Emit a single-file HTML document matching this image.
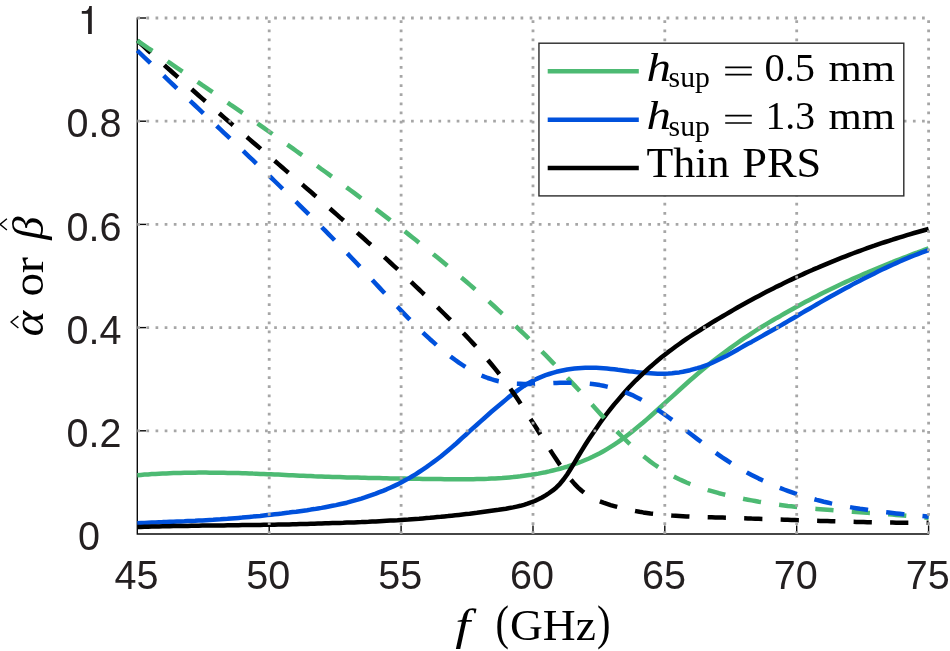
<!DOCTYPE html>
<html><head><meta charset="utf-8"><title>plot</title>
<style>html,body{margin:0;padding:0;background:#fff;overflow:hidden}svg{display:block}text{font-family:"Liberation Sans",sans-serif}.s{font-family:"Liberation Serif",serif}.i{font-family:"Liberation Serif",serif;font-style:italic}</style>
</head><body>
<svg width="950" height="651" viewBox="0 0 950 651" style="will-change:transform">
<rect width="950" height="651" fill="#fff"/>
<g stroke="#0a0a0a" stroke-width="1.4" fill="none">
<path d="M137.3,17.5 V534.0 H929.2"/>
<path d="M269.2,534.0 v-8.6"/>
<path d="M401.1,534.0 v-8.6"/>
<path d="M533.0,534.0 v-8.6"/>
<path d="M664.8,534.0 v-8.6"/>
<path d="M796.7,534.0 v-8.6"/>
<path d="M928.6,534.0 v-8.6"/>
<path d="M137.3,430.8 h8.8"/>
<path d="M137.3,327.6 h8.8"/>
<path d="M137.3,224.4 h8.8"/>
<path d="M137.3,121.2 h8.8"/>
<path d="M137.3,18.0 h8.8"/>
</g>
<clipPath id="c"><rect x="136.0" y="18.0" width="793.8" height="516.0"/></clipPath>
<g clip-path="url(#c)" fill="none" stroke-linejoin="round">
<path d="M137.3,475.2 140.9,474.9 144.5,474.6 148.1,474.4 151.8,474.1 155.4,473.9 159.0,473.7 162.6,473.5 166.2,473.4 169.8,473.2 173.4,473.1 177.0,473.0 180.7,472.9 184.3,472.8 187.9,472.8 191.5,472.7 195.1,472.7 198.7,472.6 202.3,472.6 206.0,472.6 209.6,472.7 213.2,472.7 216.8,472.7 220.4,472.8 224.0,472.8 227.6,472.9 231.2,473.0 234.9,473.0 238.5,473.1 242.1,473.2 245.7,473.3 249.3,473.4 252.9,473.6 256.5,473.7 260.2,473.9 263.8,474.0 267.4,474.2 271.0,474.3 274.6,474.5 278.2,474.6 281.8,474.8 285.4,475.0 289.1,475.2 292.7,475.3 296.3,475.5 299.9,475.7 303.5,475.8 307.1,476.0 310.7,476.1 314.3,476.3 318.0,476.4 321.6,476.5 325.2,476.7 328.8,476.8 332.4,476.9 336.0,477.0 339.6,477.1 343.3,477.2 346.9,477.4 350.5,477.5 354.1,477.6 357.7,477.6 361.3,477.7 364.9,477.8 368.5,477.9 372.2,478.0 375.8,478.1 379.4,478.1 383.0,478.2 386.6,478.3 390.2,478.4 393.8,478.4 397.5,478.5 401.1,478.5 404.7,478.6 408.3,478.7 411.9,478.7 415.5,478.8 419.1,478.8 422.7,478.9 426.4,478.9 430.0,479.0 433.6,479.0 437.2,479.1 440.8,479.1 444.4,479.2 448.0,479.2 451.7,479.2 455.3,479.2 458.9,479.3 462.5,479.3 466.1,479.2 469.7,479.2 473.3,479.2 476.9,479.1 480.6,479.0 484.2,478.9 487.8,478.8 491.4,478.6 495.0,478.4 498.6,478.2 502.2,478.0 505.9,477.7 509.5,477.4 513.1,477.1 516.7,476.7 520.3,476.3 523.9,475.8 527.5,475.3 531.1,474.8 534.8,474.2 538.4,473.6 542.0,472.9 545.6,472.2 549.2,471.4 552.8,470.5 556.4,469.6 560.0,468.7 563.7,467.7 567.3,466.6 570.9,465.4 574.5,464.2 578.1,462.9 581.7,461.5 585.3,460.0 589.0,458.5 592.6,456.8 596.2,455.0 599.8,453.2 603.4,451.2 607.0,449.1 610.6,446.9 614.2,444.6 617.9,442.2 621.5,439.7 625.1,437.0 628.7,434.3 632.3,431.4 635.9,428.5 639.5,425.5 643.2,422.5 646.8,419.4 650.4,416.2 654.0,413.0 657.6,409.8 661.2,406.5 664.8,403.2 668.4,399.9 672.1,396.6 675.7,393.3 679.3,390.0 682.9,386.8 686.5,383.5 690.1,380.3 693.7,377.2 697.4,374.0 701.0,371.0 704.6,368.0 708.2,365.0 711.8,362.1 715.4,359.3 719.0,356.5 722.6,353.7 726.3,351.0 729.9,348.4 733.5,345.8 737.1,343.2 740.7,340.7 744.3,338.2 747.9,335.8 751.6,333.4 755.2,331.0 758.8,328.7 762.4,326.5 766.0,324.3 769.6,322.1 773.2,320.0 776.8,317.9 780.5,315.9 784.1,313.8 787.7,311.8 791.3,309.7 794.9,307.7 798.5,305.7 802.1,303.8 805.7,301.8 809.4,299.9 813.0,298.0 816.6,296.2 820.2,294.3 823.8,292.5 827.4,290.7 831.0,289.0 834.7,287.2 838.3,285.5 841.9,283.8 845.5,282.1 849.1,280.5 852.7,278.9 856.3,277.3 859.9,275.7 863.6,274.1 867.2,272.6 870.8,271.0 874.4,269.5 878.0,268.0 881.6,266.5 885.2,265.1 888.9,263.6 892.5,262.2 896.1,260.7 899.7,259.3 903.3,257.9 906.9,256.5 910.5,255.1 914.1,253.7 917.8,252.4 921.4,251.0 925.0,249.6 928.6,248.3" stroke="#4dba73" stroke-width="4.5"/>
<path d="M137.3,523.2 140.9,523.0 144.5,522.9 148.1,522.7 151.8,522.5 155.4,522.4 159.0,522.2 162.6,522.1 166.2,521.9 169.8,521.8 173.4,521.7 177.0,521.5 180.7,521.4 184.3,521.3 187.9,521.1 191.5,520.9 195.1,520.8 198.7,520.6 202.3,520.4 206.0,520.2 209.6,520.0 213.2,519.8 216.8,519.5 220.4,519.3 224.0,519.0 227.6,518.8 231.2,518.5 234.9,518.2 238.5,517.9 242.1,517.6 245.7,517.2 249.3,516.9 252.9,516.6 256.5,516.2 260.2,515.9 263.8,515.5 267.4,515.1 271.0,514.7 274.6,514.3 278.2,513.9 281.8,513.5 285.4,513.0 289.1,512.6 292.7,512.1 296.3,511.7 299.9,511.2 303.5,510.7 307.1,510.2 310.7,509.6 314.3,509.1 318.0,508.5 321.6,507.9 325.2,507.2 328.8,506.5 332.4,505.8 336.0,505.1 339.6,504.3 343.3,503.5 346.9,502.7 350.5,501.7 354.1,500.7 357.7,499.7 361.3,498.6 364.9,497.4 368.5,496.1 372.2,494.8 375.8,493.6 379.4,492.2 383.0,490.8 386.6,489.3 390.2,487.7 393.8,486.1 397.5,484.4 401.1,482.5 404.7,480.6 408.3,478.6 411.9,476.5 415.5,474.3 419.1,472.0 422.7,469.6 426.4,467.1 430.0,464.5 433.6,461.9 437.2,459.2 440.8,456.5 444.4,453.6 448.0,450.6 451.7,447.4 455.3,444.3 458.9,441.0 462.5,437.7 466.1,434.5 469.7,431.2 473.3,427.9 476.9,424.7 480.6,421.4 484.2,418.2 487.8,415.0 491.4,411.8 495.0,408.7 498.6,405.7 502.2,402.7 505.9,399.6 509.5,396.6 513.1,393.8 516.7,391.1 520.3,388.5 523.9,386.0 527.5,383.7 531.1,381.7 534.8,379.8 538.4,378.1 542.0,376.6 545.6,375.2 549.2,374.0 552.8,372.8 556.4,371.8 560.0,371.0 563.7,370.2 567.3,369.5 570.9,369.0 574.5,368.6 578.1,368.2 581.7,368.0 585.3,367.8 589.0,367.7 592.6,367.7 596.2,367.8 599.8,367.9 603.4,368.2 607.0,368.5 610.6,368.9 614.2,369.3 617.9,369.8 621.5,370.2 625.1,370.7 628.7,371.2 632.3,371.6 635.9,372.1 639.5,372.4 643.2,372.8 646.8,373.1 650.4,373.3 654.0,373.5 657.6,373.7 661.2,373.7 664.8,373.7 668.4,373.5 672.1,373.2 675.7,372.8 679.3,372.4 682.9,371.8 686.5,371.0 690.1,370.2 693.7,369.2 697.4,368.2 701.0,367.1 704.6,365.8 708.2,364.5 711.8,363.0 715.4,361.3 719.0,359.5 722.6,357.7 726.3,355.9 729.9,354.0 733.5,352.0 737.1,350.0 740.7,347.9 744.3,345.8 747.9,343.8 751.6,341.9 755.2,339.9 758.8,337.9 762.4,335.9 766.0,333.8 769.6,331.8 773.2,329.7 776.8,327.7 780.5,325.6 784.1,323.5 787.7,321.4 791.3,319.3 794.9,317.2 798.5,315.0 802.1,312.9 805.7,310.8 809.4,308.7 813.0,306.6 816.6,304.5 820.2,302.4 823.8,300.4 827.4,298.3 831.0,296.3 834.7,294.3 838.3,292.3 841.9,290.3 845.5,288.3 849.1,286.4 852.7,284.4 856.3,282.5 859.9,280.7 863.6,278.8 867.2,277.0 870.8,275.2 874.4,273.4 878.0,271.6 881.6,269.8 885.2,268.1 888.9,266.4 892.5,264.7 896.1,263.1 899.7,261.5 903.3,259.9 906.9,258.4 910.5,256.9 914.1,255.5 917.8,254.1 921.4,252.7 925.0,251.4 928.6,250.1" stroke="#0051dc" stroke-width="4.5"/>
<path d="M137.3,527.0 140.9,526.9 144.5,526.8 148.1,526.7 151.8,526.6 155.4,526.5 159.0,526.4 162.6,526.3 166.2,526.2 169.8,526.2 173.4,526.1 177.0,526.0 180.7,526.0 184.3,525.9 187.9,525.9 191.5,525.8 195.1,525.7 198.7,525.7 202.3,525.6 206.0,525.6 209.6,525.5 213.2,525.5 216.8,525.4 220.4,525.4 224.0,525.4 227.6,525.3 231.2,525.3 234.9,525.2 238.5,525.2 242.1,525.1 245.7,525.1 249.3,525.0 252.9,525.0 256.5,524.9 260.2,524.9 263.8,524.8 267.4,524.8 271.0,524.7 274.6,524.7 278.2,524.6 281.8,524.5 285.4,524.5 289.1,524.4 292.7,524.3 296.3,524.2 299.9,524.1 303.5,524.0 307.1,523.9 310.7,523.8 314.3,523.7 318.0,523.6 321.6,523.5 325.2,523.3 328.8,523.2 332.4,523.1 336.0,523.0 339.6,522.9 343.3,522.8 346.9,522.6 350.5,522.5 354.1,522.4 357.7,522.2 361.3,522.1 364.9,521.9 368.5,521.8 372.2,521.6 375.8,521.4 379.4,521.2 383.0,521.0 386.6,520.8 390.2,520.6 393.8,520.4 397.5,520.2 401.1,519.9 404.7,519.7 408.3,519.5 411.9,519.2 415.5,518.9 419.1,518.7 422.7,518.4 426.4,518.1 430.0,517.8 433.6,517.4 437.2,517.1 440.8,516.8 444.4,516.4 448.0,516.1 451.7,515.7 455.3,515.3 458.9,514.9 462.5,514.5 466.1,514.1 469.7,513.7 473.3,513.2 476.9,512.8 480.6,512.3 484.2,511.8 487.8,511.3 491.4,510.8 495.0,510.3 498.6,509.8 502.2,509.2 505.9,508.7 509.5,508.0 513.1,507.4 516.7,506.6 520.3,505.8 523.9,504.8 527.5,503.7 531.1,502.4 534.8,501.0 538.4,499.3 542.0,497.5 545.6,495.4 549.2,493.0 552.8,490.4 556.4,487.4 560.0,483.8 563.7,479.3 567.3,474.2 570.9,468.5 574.5,462.6 578.1,456.5 581.7,450.6 585.3,444.8 589.0,439.1 592.6,433.7 596.2,428.4 599.8,423.3 603.4,418.3 607.0,413.5 610.6,408.9 614.2,404.4 617.9,400.1 621.5,395.9 625.1,391.8 628.7,387.8 632.3,384.0 635.9,380.3 639.5,376.8 643.2,373.3 646.8,370.0 650.4,366.7 654.0,363.6 657.6,360.5 661.2,357.6 664.8,354.7 668.4,351.9 672.1,349.2 675.7,346.5 679.3,344.0 682.9,341.4 686.5,338.9 690.1,336.5 693.7,334.1 697.4,331.8 701.0,329.5 704.6,327.2 708.2,325.0 711.8,322.7 715.4,320.5 719.0,318.3 722.6,316.2 726.3,314.1 729.9,312.0 733.5,309.9 737.1,307.8 740.7,305.8 744.3,303.8 747.9,301.8 751.6,299.8 755.2,297.8 758.8,295.9 762.4,294.0 766.0,292.1 769.6,290.3 773.2,288.5 776.8,286.6 780.5,284.9 784.1,283.1 787.7,281.3 791.3,279.6 794.9,277.9 798.5,276.2 802.1,274.6 805.7,272.9 809.4,271.3 813.0,269.7 816.6,268.2 820.2,266.6 823.8,265.1 827.4,263.6 831.0,262.1 834.7,260.6 838.3,259.1 841.9,257.7 845.5,256.3 849.1,254.9 852.7,253.5 856.3,252.2 859.9,250.8 863.6,249.5 867.2,248.2 870.8,246.9 874.4,245.7 878.0,244.4 881.6,243.2 885.2,242.0 888.9,240.8 892.5,239.7 896.1,238.5 899.7,237.4 903.3,236.3 906.9,235.2 910.5,234.1 914.1,233.0 917.8,232.0 921.4,231.0 925.0,230.0 928.6,229.0" stroke="#000" stroke-width="4.5"/>
<path d="M137.3,40.6 140.9,43.9 144.5,47.2 148.1,50.5 151.8,53.8 155.4,57.0 159.0,60.3 162.6,63.5 166.2,66.8 169.8,70.0 173.4,73.2 177.0,76.4 180.7,79.6 184.3,82.8 187.9,86.0 191.5,89.1 195.1,92.3 198.7,95.5 202.3,98.6 206.0,101.8 209.6,104.9 213.2,108.0 216.8,111.1 220.4,114.3 224.0,117.4 227.6,120.5 231.2,123.6 234.9,126.7 238.5,129.8 242.1,132.9 245.7,136.0 249.3,139.1 252.9,142.2 256.5,145.3 260.2,148.4 263.8,151.5 267.4,154.6 271.0,157.7 274.6,160.8 278.2,163.9 281.8,167.0 285.4,170.1 289.1,173.2 292.7,176.3 296.3,179.4 299.9,182.5 303.5,185.6 307.1,188.7 310.7,191.8 314.3,195.0 318.0,198.1 321.6,201.2 325.2,204.4 328.8,207.5 332.4,210.7 336.0,213.9 339.6,217.1 343.3,220.2 346.9,223.4 350.5,226.6 354.1,229.8 357.7,233.1 361.3,236.3 364.9,239.5 368.5,242.8 372.2,246.0 375.8,249.3 379.4,252.6 383.0,255.9 386.6,259.2 390.2,262.5 393.8,265.8 397.5,269.2 401.1,272.5 404.7,275.9 408.3,279.3 411.9,282.7 415.5,286.1 419.1,289.5 422.7,293.0 426.4,296.4 430.0,299.9 433.6,303.4 437.2,306.9 440.8,310.5 444.4,314.0 448.0,317.6 451.7,321.1 455.3,324.8 458.9,328.4 462.5,332.1 466.1,335.9 469.7,339.7 473.3,343.6 476.9,347.5 480.6,351.6 484.2,355.7 487.8,359.9 491.4,364.2 495.0,368.6 498.6,373.2 502.2,377.8 505.9,382.6 509.5,387.5 513.1,392.6 516.7,397.8 520.3,403.2 523.9,408.7 527.5,414.2 531.1,419.9 534.8,425.6 538.4,431.3 542.0,437.1 545.6,442.8 549.2,448.5 552.8,454.1 556.4,459.6 560.0,465.0 563.7,470.2 567.3,475.1 570.9,479.7 574.5,483.9 578.1,487.6 581.7,490.8 585.3,493.6 589.0,496.0 592.6,498.1 596.2,499.8 599.8,501.4 603.4,502.7 607.0,503.9 610.6,505.1 614.2,506.1 617.9,507.1 621.5,508.0 625.1,508.9 628.7,509.7 632.3,510.4 635.9,511.1 639.5,511.8 643.2,512.4 646.8,512.9 650.4,513.4 654.0,513.8 657.6,514.3 661.2,514.6 664.8,515.0 668.4,515.3 672.1,515.6 675.7,515.8 679.3,516.0 682.9,516.2 686.5,516.4 690.1,516.6 693.7,516.7 697.4,516.8 701.0,517.0 704.6,517.1 708.2,517.2 711.8,517.3 715.4,517.4 719.0,517.5 722.6,517.6 726.3,517.7 729.9,517.8 733.5,518.0 737.1,518.1 740.7,518.2 744.3,518.3 747.9,518.4 751.6,518.6 755.2,518.7 758.8,518.8 762.4,518.9 766.0,519.0 769.6,519.2 773.2,519.3 776.8,519.4 780.5,519.6 784.1,519.7 787.7,519.8 791.3,519.9 794.9,520.0 798.5,520.2 802.1,520.3 805.7,520.4 809.4,520.5 813.0,520.7 816.6,520.8 820.2,520.9 823.8,521.0 827.4,521.1 831.0,521.2 834.7,521.3 838.3,521.4 841.9,521.5 845.5,521.6 849.1,521.7 852.7,521.8 856.3,521.9 859.9,522.0 863.6,522.1 867.2,522.2 870.8,522.2 874.4,522.3 878.0,522.4 881.6,522.4 885.2,522.5 888.9,522.6 892.5,522.6 896.1,522.7 899.7,522.7 903.3,522.7 906.9,522.8 910.5,522.8 914.1,522.8 917.8,522.8 921.4,522.8 925.0,522.8 928.6,522.8" stroke="#000" stroke-width="4.5" stroke-dasharray="18.25 18.25"/>
<path d="M137.3,40.7 140.9,43.2 144.5,45.6 148.1,48.1 151.8,50.5 155.4,53.0 159.0,55.5 162.6,57.9 166.2,60.4 169.8,62.9 173.4,65.3 177.0,67.8 180.7,70.3 184.3,72.7 187.9,75.2 191.5,77.7 195.1,80.2 198.7,82.7 202.3,85.2 206.0,87.6 209.6,90.1 213.2,92.6 216.8,95.1 220.4,97.6 224.0,100.1 227.6,102.6 231.2,105.2 234.9,107.7 238.5,110.2 242.1,112.7 245.7,115.2 249.3,117.8 252.9,120.3 256.5,122.8 260.2,125.4 263.8,127.9 267.4,130.5 271.0,133.0 274.6,135.6 278.2,138.1 281.8,140.7 285.4,143.2 289.1,145.8 292.7,148.4 296.3,151.0 299.9,153.6 303.5,156.1 307.1,158.7 310.7,161.3 314.3,163.9 318.0,166.5 321.6,169.2 325.2,171.8 328.8,174.4 332.4,177.0 336.0,179.7 339.6,182.3 343.3,184.9 346.9,187.6 350.5,190.3 354.1,192.9 357.7,195.6 361.3,198.3 364.9,201.0 368.5,203.7 372.2,206.4 375.8,209.1 379.4,211.9 383.0,214.6 386.6,217.4 390.2,220.1 393.8,222.9 397.5,225.7 401.1,228.5 404.7,231.3 408.3,234.1 411.9,237.0 415.5,239.8 419.1,242.7 422.7,245.6 426.4,248.5 430.0,251.4 433.6,254.4 437.2,257.3 440.8,260.3 444.4,263.2 448.0,266.2 451.7,269.3 455.3,272.3 458.9,275.4 462.5,278.4 466.1,281.5 469.7,284.6 473.3,287.8 476.9,290.9 480.6,294.1 484.2,297.3 487.8,300.5 491.4,303.7 495.0,307.0 498.6,310.3 502.2,313.6 505.9,316.9 509.5,320.3 513.1,323.7 516.7,327.1 520.3,330.5 523.9,333.9 527.5,337.4 531.1,340.9 534.8,344.4 538.4,348.0 542.0,351.6 545.6,355.2 549.2,358.9 552.8,362.6 556.4,366.3 560.0,370.0 563.7,373.8 567.3,377.6 570.9,381.5 574.5,385.4 578.1,389.3 581.7,393.3 585.3,397.2 589.0,401.2 592.6,405.2 596.2,409.2 599.8,413.2 603.4,417.1 607.0,421.0 610.6,424.8 614.2,428.6 617.9,432.3 621.5,436.0 625.1,439.5 628.7,443.0 632.3,446.4 635.9,449.7 639.5,452.8 643.2,455.9 646.8,458.8 650.4,461.6 654.0,464.2 657.6,466.7 661.2,469.1 664.8,471.4 668.4,473.5 672.1,475.6 675.7,477.5 679.3,479.3 682.9,480.9 686.5,482.5 690.1,484.0 693.7,485.4 697.4,486.7 701.0,487.9 704.6,489.1 708.2,490.2 711.8,491.2 715.4,492.2 719.0,493.2 722.6,494.1 726.3,495.0 729.9,495.8 733.5,496.7 737.1,497.5 740.7,498.2 744.3,499.0 747.9,499.7 751.6,500.4 755.2,501.0 758.8,501.7 762.4,502.3 766.0,502.8 769.6,503.4 773.2,503.9 776.8,504.4 780.5,504.9 784.1,505.4 787.7,505.9 791.3,506.3 794.9,506.7 798.5,507.1 802.1,507.5 805.7,507.9 809.4,508.2 813.0,508.6 816.6,508.9 820.2,509.2 823.8,509.5 827.4,509.8 831.0,510.1 834.7,510.4 838.3,510.7 841.9,511.0 845.5,511.2 849.1,511.5 852.7,511.7 856.3,512.0 859.9,512.2 863.6,512.5 867.2,512.8 870.8,513.0 874.4,513.3 878.0,513.5 881.6,513.8 885.2,514.0 888.9,514.3 892.5,514.6 896.1,514.9 899.7,515.2 903.3,515.5 906.9,515.8 910.5,516.1 914.1,516.4 917.8,516.7 921.4,517.1 925.0,517.5 928.6,517.8" stroke="#4dba73" stroke-width="4.5" stroke-dasharray="18.25 18.25"/>
<path d="M137.3,50.5 140.9,54.0 144.5,57.5 148.1,60.9 151.8,64.4 155.4,67.8 159.0,71.3 162.6,74.7 166.2,78.2 169.8,81.6 173.4,85.0 177.0,88.4 180.7,91.9 184.3,95.3 187.9,98.7 191.5,102.1 195.1,105.5 198.7,108.9 202.3,112.3 206.0,115.8 209.6,119.2 213.2,122.6 216.8,126.0 220.4,129.4 224.0,132.8 227.6,136.2 231.2,139.7 234.9,143.1 238.5,146.5 242.1,149.9 245.7,153.4 249.3,156.8 252.9,160.2 256.5,163.7 260.2,167.1 263.8,170.6 267.4,174.1 271.0,177.5 274.6,181.0 278.2,184.5 281.8,188.0 285.4,191.5 289.1,195.0 292.7,198.5 296.3,202.0 299.9,205.6 303.5,209.1 307.1,212.7 310.7,216.3 314.3,219.8 318.0,223.4 321.6,227.1 325.2,230.7 328.8,234.3 332.4,238.0 336.0,241.7 339.6,245.4 343.3,249.1 346.9,252.9 350.5,256.7 354.1,260.5 357.7,264.3 361.3,268.2 364.9,272.0 368.5,275.9 372.2,279.8 375.8,283.7 379.4,287.6 383.0,291.5 386.6,295.3 390.2,299.2 393.8,303.0 397.5,306.8 401.1,310.6 404.7,314.4 408.3,318.1 411.9,321.7 415.5,325.3 419.1,328.9 422.7,332.4 426.4,335.8 430.0,339.2 433.6,342.4 437.2,345.6 440.8,348.7 444.4,351.7 448.0,354.6 451.7,357.4 455.3,360.0 458.9,362.6 462.5,365.0 466.1,367.3 469.7,369.5 473.3,371.5 476.9,373.4 480.6,375.1 484.2,376.6 487.8,378.0 491.4,379.2 495.0,380.3 498.6,381.2 502.2,381.9 505.9,382.5 509.5,383.0 513.1,383.4 516.7,383.7 520.3,383.8 523.9,383.9 527.5,384.0 531.1,383.9 534.8,383.9 538.4,383.7 542.0,383.6 545.6,383.4 549.2,383.3 552.8,383.1 556.4,382.9 560.0,382.8 563.7,382.7 567.3,382.7 570.9,382.7 574.5,382.8 578.1,382.9 581.7,383.1 585.3,383.3 589.0,383.7 592.6,384.1 596.2,384.6 599.8,385.1 603.4,385.8 607.0,386.6 610.6,387.5 614.2,388.5 617.9,389.5 621.5,390.8 625.1,392.1 628.7,393.6 632.3,395.1 635.9,396.9 639.5,398.7 643.2,400.7 646.8,402.8 650.4,405.0 654.0,407.3 657.6,409.7 661.2,412.1 664.8,414.6 668.4,417.2 672.1,419.9 675.7,422.5 679.3,425.3 682.9,428.0 686.5,430.8 690.1,433.5 693.7,436.3 697.4,439.1 701.0,441.8 704.6,444.6 708.2,447.3 711.8,449.9 715.4,452.5 719.0,455.1 722.6,457.6 726.3,460.0 729.9,462.3 733.5,464.6 737.1,466.8 740.7,468.9 744.3,471.0 747.9,473.0 751.6,474.9 755.2,476.8 758.8,478.6 762.4,480.3 766.0,482.0 769.6,483.6 773.2,485.1 776.8,486.7 780.5,488.1 784.1,489.5 787.7,490.8 791.3,492.1 794.9,493.4 798.5,494.6 802.1,495.7 805.7,496.8 809.4,497.9 813.0,498.9 816.6,499.9 820.2,500.8 823.8,501.7 827.4,502.5 831.0,503.4 834.7,504.1 838.3,504.9 841.9,505.6 845.5,506.3 849.1,507.0 852.7,507.6 856.3,508.2 859.9,508.8 863.6,509.3 867.2,509.8 870.8,510.4 874.4,510.8 878.0,511.3 881.6,511.8 885.2,512.2 888.9,512.6 892.5,513.0 896.1,513.4 899.7,513.8 903.3,514.2 906.9,514.6 910.5,514.9 914.1,515.3 917.8,515.6 921.4,516.0 925.0,516.3 928.6,516.7" stroke="#0051dc" stroke-width="4.5" stroke-dasharray="18.25 18.25"/>
</g>
<g stroke="#a6a6a6" stroke-width="2.8" stroke-dasharray="2.7 6.425" fill="none">
<path d="M269.2,534.0 V18.0"/>
<path d="M401.1,534.0 V18.0"/>
<path d="M533.0,534.0 V18.0"/>
<path d="M664.8,534.0 V18.0"/>
<path d="M796.7,534.0 V18.0"/>
<path d="M928.6,534.0 V18.0"/>
<path d="M137.3,430.8 H928.6"/>
<path d="M137.3,327.6 H928.6"/>
<path d="M137.3,224.4 H928.6"/>
<path d="M137.3,121.2 H928.6"/>
<path d="M137.3,18.0 H928.6"/>
</g>
<g fill="#231f20" font-size="41.2">
<text transform="translate(136.4,589) scale(0.96,1)" text-anchor="middle">45</text>
<text transform="translate(268.3,589) scale(0.96,1)" text-anchor="middle">50</text>
<text transform="translate(400.2,589) scale(0.96,1)" text-anchor="middle">55</text>
<text transform="translate(532.1,589) scale(0.96,1)" text-anchor="middle">60</text>
<text transform="translate(663.9,589) scale(0.96,1)" text-anchor="middle">65</text>
<text transform="translate(795.8,589) scale(0.96,1)" text-anchor="middle">70</text>
<text transform="translate(927.7,589) scale(0.96,1)" text-anchor="middle">75</text>
<text transform="translate(77.9,550.1) scale(0.96,1)">0</text>
<text transform="translate(66.4,446.9) scale(0.96,1)">0.2</text>
<text transform="translate(66.4,343.7) scale(0.96,1)">0.4</text>
<text transform="translate(66.4,240.5) scale(0.96,1)">0.6</text>
<text transform="translate(66.4,137.3) scale(0.96,1)">0.8</text>
<path d="M91.8,6.1V33.9H88.1V13.8H81.8V11.1H85.5Q88.7,10.3 89.3,6.1Z"/>
</g>
<rect x="538.95" y="43.2" width="364.85" height="152.7" fill="#fff" stroke="#2b2b2b" stroke-width="1.4"/>
<path d="M547.7,71.3 H638.8" stroke="#4dba73" stroke-width="4.5" fill="none"/>
<path d="M547.7,119.7 H638.8" stroke="#0051dc" stroke-width="4.5" fill="none"/>
<path d="M547.7,168.1 H638.8" stroke="#000" stroke-width="4.5" fill="none"/>
<g fill="#000">
<text class="i" x="646.5" y="80.6" font-size="41" textLength="24.5" lengthAdjust="spacingAndGlyphs">h</text>
<text class="s" x="668.6" y="87.2" font-size="29.5" textLength="41.3" lengthAdjust="spacingAndGlyphs">sup</text>
<path d="M725.2,67.4 h26.6 M725.2,74.7 h26.6" stroke="#000" stroke-width="1.7" fill="none"/>
<text class="s" x="764.5" y="80.9" font-size="40.5" textLength="50.5" lengthAdjust="spacingAndGlyphs">0.5</text>
<text class="s" x="828.4" y="80.8" font-size="38" textLength="66.6" lengthAdjust="spacingAndGlyphs">mm</text>
<text class="i" x="646.5" y="128.9" font-size="41" textLength="24.5" lengthAdjust="spacingAndGlyphs">h</text>
<text class="s" x="668.6" y="135.5" font-size="29.5" textLength="41.3" lengthAdjust="spacingAndGlyphs">sup</text>
<path d="M725.2,115.7 h26.6 M725.2,123.0 h26.6" stroke="#000" stroke-width="1.7" fill="none"/>
<text class="s" x="765.5" y="129.2" font-size="40.5" textLength="49.5" lengthAdjust="spacingAndGlyphs">1.3</text>
<text class="s" x="828.4" y="129.1" font-size="38" textLength="66.6" lengthAdjust="spacingAndGlyphs">mm</text>
<text class="s" x="646.4" y="177.0" font-size="41.5" textLength="83" lengthAdjust="spacingAndGlyphs">Thin</text>
<text class="s" x="742.3" y="177.0" font-size="41.5" textLength="79" lengthAdjust="spacingAndGlyphs">PRS</text>
</g>
<g fill="#000">
<text class="i" transform="translate(455.3,640.2) scale(1.2,1)" x="0" y="0" font-size="45">f</text>
<text class="s" x="495.5" y="638.6" font-size="49" textLength="13.5" lengthAdjust="spacingAndGlyphs">(</text>
<text class="s" x="509.9" y="640.2" font-size="45" textLength="86" lengthAdjust="spacingAndGlyphs">GHz</text>
<text class="s" x="597" y="638.6" font-size="49" textLength="13.5" lengthAdjust="spacingAndGlyphs">)</text>
</g>
<g fill="#000" transform="translate(42.7,336) rotate(-90)">
<text class="i" transform="translate(-0.6,0) scale(1.09,1)" font-size="45">α</text>
<text class="s" x="39.6" y="0" font-size="45" textLength="23.6" lengthAdjust="spacingAndGlyphs">o</text>
<text class="s" x="62.8" y="0" font-size="45" textLength="16.1" lengthAdjust="spacingAndGlyphs">r</text>
<text class="i" transform="translate(96.3,0) scale(1.04,1)" font-size="45">β</text>
<path d="M8,-24.3 l5.95,-7.3 l5.95,7.3 M106,-35.8 l5.6,-6.9 l5.6,6.9" stroke="#000" stroke-width="1.4" fill="none"/>
</g>
</svg></body></html>
